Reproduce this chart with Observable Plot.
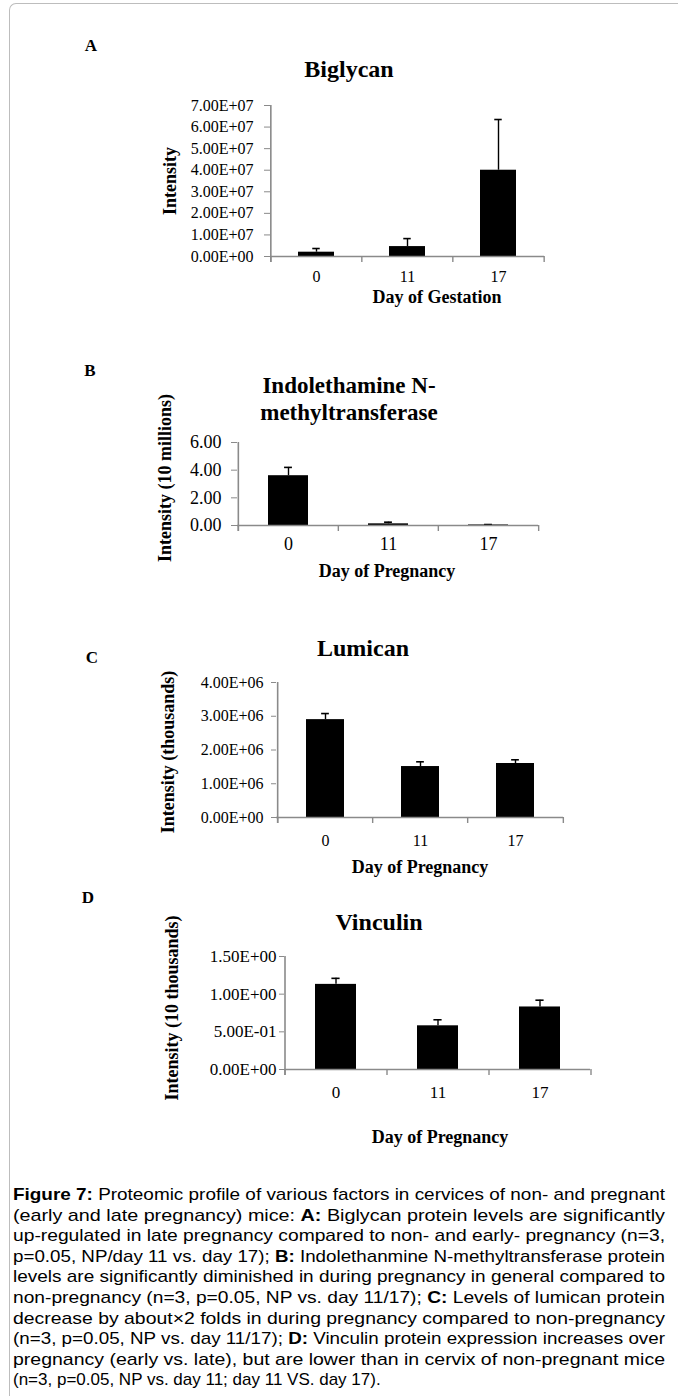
<!DOCTYPE html>
<html><head><meta charset="utf-8">
<script src="https://cdn.jsdelivr.net/npm/d3@7"></script>
<script src="https://cdn.jsdelivr.net/npm/@observablehq/plot@0.6"></script>
<style>
body{margin:0;background:#fff;}
#page{position:relative;width:678px;height:1396px;overflow:hidden;font-family:"Liberation Serif","Times New Roman",serif;color:#000;background:#fff;}
.abs{position:absolute;white-space:nowrap;line-height:1;transform:translate(-50%,-50%);text-align:center;}
.b{font-weight:bold;}
.rot{transform:translate(-50%,-50%) rotate(-90deg);}
.frame{position:absolute;left:9px;top:3px;width:720px;height:1500px;border-left:1px solid #bdbdbd;border-top:1px solid #bdbdbd;border-top-left-radius:7px;}
#page svg.panel text{font-family:"Liberation Serif","Times New Roman",serif;fill:#000;}
#page svg.fs16 text{font-size:16px;}
#page svg.fs17 text{font-size:17px;}
#page svg.fs18 text{font-size:18px;}
</style></head><body><div id="page"><div class="frame"></div></div>
<script>
// ---- data ----
const days = ["0", "11", "17"];

const biglycanMean = [2.0e6, 4.6e6, 4.0e7];
const biglycanErr  = [1.7e6, 3.7e6, 2.35e7];
const biglycanTicks = [0, 1e7, 2e7, 3e7, 4e7, 5e7, 6e7, 7e7];

const inmtMean = [3.6, 0.12, 0.04];
const inmtErr  = [0.6, 0.12, 0.03];
const inmtTicks = [0, 2, 4, 6];

const lumicanMean = [2.9e6, 1.51e6, 1.6e6];
const lumicanErr  = [0.18e6, 0.14e6, 0.11e6];
const lumicanTicks = [0, 1e6, 2e6, 3e6, 4e6];

const vinculinMean = [1.13, 0.58, 0.83];
const vinculinErr  = [0.08, 0.08, 0.09];
const vinculinTicks = [0, 0.5, 1.0, 1.5];

const panelLetters = ["A", "B", "C", "D"];
const titles = [["Biglycan"], ["Indolethamine N-", "methyltransferase"], ["Lumican"], ["Vinculin"]];
const yLabels = ["Intensity", "Intensity (10 millions)", "Intensity (thousands)", "Intensity (10 thousands)"];
const xLabels = ["Day of Gestation", "Day of Pregnancy", "Day of Pregnancy", "Day of Pregnancy"];

const captionLines = [
  [["Figure 7:", true], [" Proteomic profile of various factors in cervices of non- and pregnant", false]],
  [["(early and late pregnancy) mice: ", false], ["A:", true], [" Biglycan protein levels are significantly", false]],
  [["up-regulated in late pregnancy compared to non- and early- pregnancy (n=3,", false]],
  [["p=0.05, NP/day 11 vs. day 17); ", false], ["B:", true], [" Indolethanmine N-methyltransferase protein", false]],
  [["levels are significantly diminished in during pregnancy in general compared to", false]],
  [["non-pregnancy (n=3, p=0.05, NP vs. day 11/17); ", false], ["C:", true], [" Levels of lumican protein", false]],
  [["decrease by about\u00d72 folds in during pregnancy compared to non-pregnancy", false]],
  [["(n=3, p=0.05, NP vs. day 11/17); ", false], ["D:", true], [" Vinculin protein expression increases over", false]],
  [["pregnancy (early vs. late), but are lower than in cervix of non-pregnant mice", false]],
  [["(n=3, p=0.05, NP vs. day 11; day 11 VS. day 17).", false]]
];

// ---- helpers ----
function sci(d) {
  const [m, e] = d.toExponential(2).split("e");
  return m + "E" + e[0] + e.slice(1).padStart(2, "0");
}
const fixed2 = d => d.toFixed(2);

const page = document.getElementById("page");
function addText(txt, x, y, size, cls) {
  const el = document.createElement("div");
  el.className = "abs " + (cls || "");
  el.style.left = x + "px";
  el.style.top = y + "px";
  el.style.fontSize = size + "px";
  el.textContent = txt;
  page.appendChild(el);
}

// layout per panel (pixel geometry only)
const layout = [
  {top: 95,  ml: 270, mr: 134, mt: 10, mb: 30, y0: 256,  fs: 16, ts: 6, tp: 11, xtp: 14, fmt: sci,
   letter: [91, 45], title: [349, 69], tstep: 0, tfs: 24, ylab: [170, 181], xlab: [437, 297]},
  {top: 432, ml: 237, mr: 140, mt: 10, mb: 30, y0: 525,  fs: 18, ts: 6, tp: 10, xtp: 12, fmt: fixed2,
   letter: [90, 370], title: [349, 385], tstep: 26.5, tfs: 23, ylab: [165, 478], xlab: [387, 571]},
  {top: 672, ml: 276, mr: 115, mt: 10, mb: 35, y0: 817,  fs: 16, ts: 5, tp: 8, xtp: 17, fmt: sci,
   letter: [92, 657], title: [363, 648], tstep: 0, tfs: 24, ylab: [168, 752], xlab: [420, 867]},
  {top: 946, ml: 284, mr: 88,  mt: 10, mb: 35, y0: 1069, fs: 17, ts: 5, tp: 3, xtp: 16, fmt: sci,
   letter: [88, 897], title: [379, 922], tstep: 0, tfs: 24, ylab: [172, 1008], xlab: [440, 1137]}
];
const series = [
  [biglycanMean, biglycanErr, biglycanTicks],
  [inmtMean, inmtErr, inmtTicks],
  [lumicanMean, lumicanErr, lumicanTicks],
  [vinculinMean, vinculinErr, vinculinTicks]
];

const gray = "#8a8a8a";
const W = 678;

series.forEach(([mean, err, ticks], k) => {
  const L = layout[k];
  const rows = days.map((d, i) => ({day: d, mean: mean[i], top: mean[i] + err[i]}));
  const plotW = W - L.ml - L.mr;
  const step = plotW / days.length;
  const bw = step * 0.4;
  const capInset = (bw - 8) / 2;
  const ymax = ticks[ticks.length - 1];
  const height = (L.y0 - L.top) + L.mb;
  const svg = Plot.plot({
    width: W, height,
    marginLeft: L.ml, marginRight: L.mr, marginTop: L.mt, marginBottom: L.mb,
    style: {fontFamily: "'Liberation Serif', 'Times New Roman', serif", fontSize: L.fs + "px", color: "#000", background: "transparent", overflow: "visible"},
    x: {domain: days, paddingInner: 0.6, paddingOuter: 0.3, label: null, axis: null},
    y: {domain: [0, ymax], label: null, axis: null},
    marks: [
      Plot.barY(rows, {x: "day", y: "mean", fill: "#000"}),
      Plot.ruleX(rows, {x: "day", y1: "mean", y2: "top", stroke: "#000", strokeWidth: 1.4}),
      Plot.tickY(rows, {x: "day", y: "top", stroke: "#000", strokeWidth: 1.6, insetLeft: capInset, insetRight: capInset}),
      Plot.ruleY([0], {stroke: gray, strokeWidth: 1.6}),
      Plot.ruleX(days.slice(0, 1), {x: d => d, y1: () => ymax, y2: () => 0, dx: -step / 2, insetBottom: -6, stroke: gray, strokeWidth: 1.6}),
      Plot.ruleX(days, {x: d => d, y1: () => 0, y2: () => 0, dx: -step / 2, insetBottom: -6, stroke: gray, strokeWidth: 1.4}),
      Plot.ruleX(days.slice(-1), {x: d => d, y1: () => 0, y2: () => 0, dx: step / 2, insetBottom: -6, stroke: gray, strokeWidth: 1.4}),
      Plot.axisY(ticks, {tickSize: L.ts, tickPadding: L.tp, tickFormat: L.fmt, stroke: gray, fill: "#000", label: null, fontSize: L.fs}),
      Plot.axisX({tickSize: 0, tickPadding: L.xtp, fill: "#000", label: null, fontSize: L.fs})
    ]
  });
  svg.classList.add("panel", "fs" + L.fs);
  svg.style.position = "absolute";
  svg.style.left = "0px";
  svg.style.top = L.top + "px";
  page.appendChild(svg);

  addText(panelLetters[k], L.letter[0], L.letter[1], 17, "b");
  titles[k].forEach((t, j) => addText(t, L.title[0], L.title[1] + j * L.tstep, L.tfs, "b"));
  addText(yLabels[k], L.ylab[0], L.ylab[1], 18, "b rot");
  addText(xLabels[k], L.xlab[0], L.xlab[1], 18, "b");
});

// ---- caption ----
const NS = "http://www.w3.org/2000/svg";
const capTop = 1160;
const cap = document.createElementNS(NS, "svg");
cap.setAttribute("width", W);
cap.setAttribute("height", 1396 - capTop);
cap.style.position = "absolute";
cap.style.left = "0px";
cap.style.top = capTop + "px";
const firstBaseline = 1200, lineStep = 20.6;
captionLines.forEach((segs, i) => {
  const t = document.createElementNS(NS, "text");
  t.setAttribute("x", 13);
  t.setAttribute("y", firstBaseline + i * lineStep - capTop);
  t.setAttribute("font-family", "'Liberation Sans', Arial, sans-serif");
  t.setAttribute("font-size", "17");
  t.setAttribute("fill", "#000");
  t.style.whiteSpace = "pre";
  if (i < captionLines.length - 1) {
    t.setAttribute("textLength", 652);
    t.setAttribute("lengthAdjust", "spacingAndGlyphs");
  }
  segs.forEach(([s, bold]) => {
    const ts = document.createElementNS(NS, "tspan");
    if (bold) ts.setAttribute("font-weight", "bold");
    ts.textContent = s;
    t.appendChild(ts);
  });
  cap.appendChild(t);
});
page.appendChild(cap);
</script></body></html>
